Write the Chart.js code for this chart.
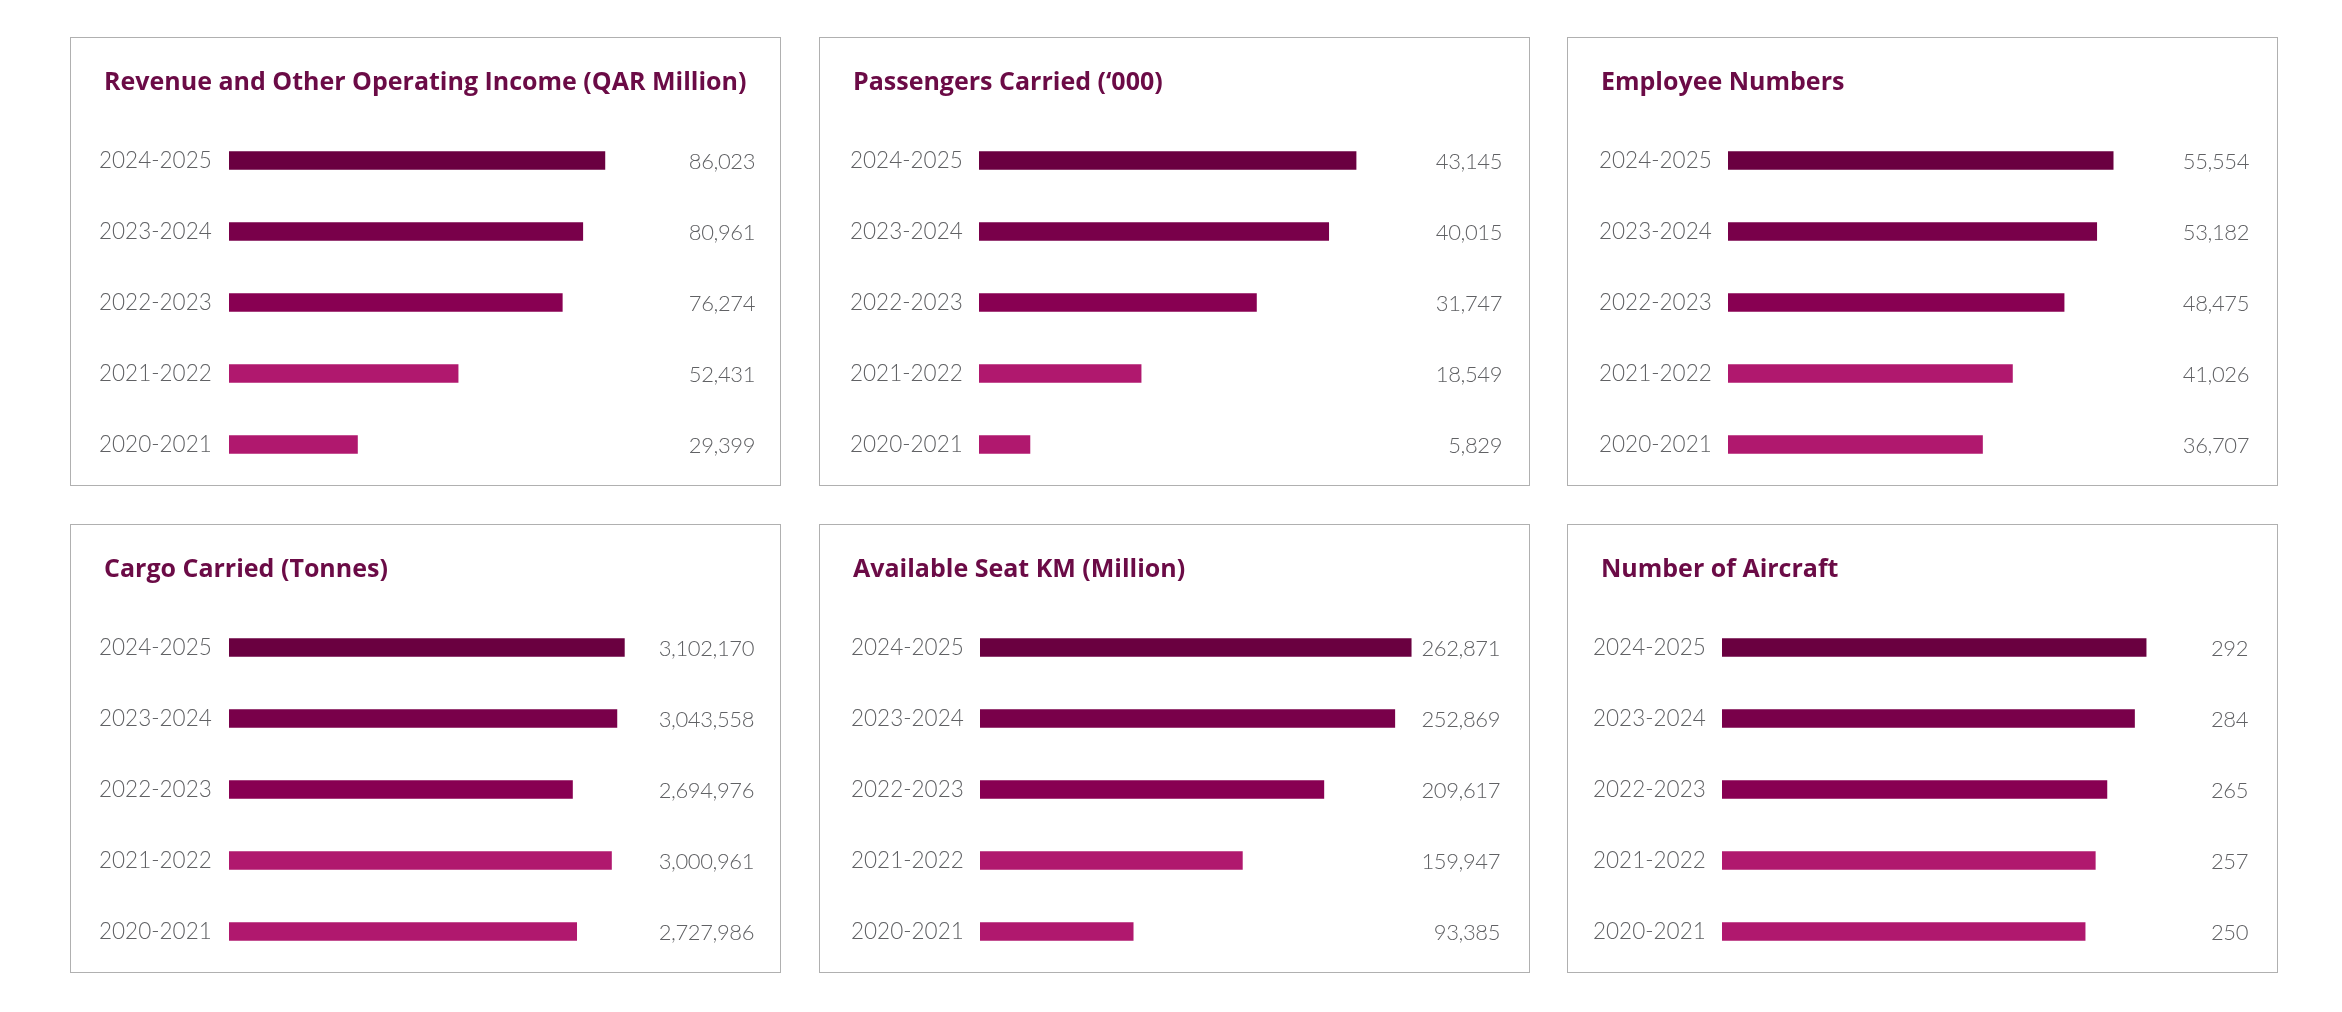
<!DOCTYPE html>
<html>
<head>
<meta charset="utf-8">
<script src="https://cdn.jsdelivr.net/npm/chart.js@4.4.1/dist/chart.umd.min.js"></script>
<style>
  html, body { margin: 0; padding: 0; background: #fff; }
  body { width: 2342px; height: 1012px; position: relative; overflow: hidden; }
  .panel { position: absolute; width: 711px; height: 449px; border: 1.5px solid #b0b0b0; box-sizing: border-box; }
  .panel canvas { position: absolute; left: 0; top: 0; }
</style>
</head>
<body>
<div class="panel" style="left:70px;top:37px"><canvas id="c0"></canvas></div>
<div class="panel" style="left:819px;top:37px"><canvas id="c1"></canvas></div>
<div class="panel" style="left:1567px;top:37px"><canvas id="c2"></canvas></div>
<div class="panel" style="left:70px;top:524px"><canvas id="c3"></canvas></div>
<div class="panel" style="left:819px;top:524px"><canvas id="c4"></canvas></div>
<div class="panel" style="left:1567px;top:524px"><canvas id="c5"></canvas></div>

<script>
// data
const years = ['2024-2025', '2023-2024', '2022-2023', '2021-2022', '2020-2021'];

const revenue    = [86023, 80961, 76274, 52431, 29399];
const passengers = [43145, 40015, 31747, 18549, 5829];
const employees  = [55554, 53182, 48475, 41026, 36707];
const cargo      = [3102170, 3043558, 2694976, 3000961, 2727986];
const seatKm     = [262871, 252869, 209617, 159947, 93385];
const aircraft   = [292, 284, 265, 257, 250];

const titles = [
    'Revenue and Other Operating Income (QAR Million)',
    'Passengers Carried (\u2018000)',
    'Employee Numbers',
    'Cargo Carried (Tonnes)',
    'Available Seat KM (Million)',
    'Number of Aircraft'
];
const series = [revenue, passengers, employees, cargo, seatKm, aircraft];

// x axis upper limit of each panel
const axisMax = [119000, 59500, 75000, 4080000, 317000, 358];

const barColors = ['#6a0040', '#79004a', '#880052', '#b0186e', '#b0186e'];

// label left, bar start, value right edge (px inside each panel)
const offsets = [
    { label: 28, bar: 158, value: 684 },
    { label: 30, bar: 159, value: 682 },
    { label: 31, bar: 160, value: 681 },
    { label: 28, bar: 158, value: 683 },
    { label: 31, bar: 160, value: 680 },
    { label: 25, bar: 154, value: 680 }
];

const W = 708, H = 446, PLOT = 520;
const TEXT_GREY = '#606164';
const TITLE_COLOR = '#6b0b46';

// title drawn at a fixed spot inside the panel
const panelTitle = {
    id: 'panelTitle',
    beforeDraw(chart, args, opts) {
        const ctx = chart.ctx;
        ctx.save();
        ctx.font = 'bold 25px "Open Sans"';
        ctx.fillStyle = TITLE_COLOR;
        ctx.textAlign = 'left';
        ctx.textBaseline = 'alphabetic';
        ctx.fillText(opts.text, 33, 52);
        ctx.restore();
    }
};

const valueLabels = {
    id: 'valueLabels',
    afterDatasetsDraw(chart, args, opts) {
        const ctx = chart.ctx;
        const meta = chart.getDatasetMeta(0);
        const data = chart.data.datasets[0].data;
        ctx.save();
        ctx.font = '300 22px Lato';
        ctx.letterSpacing = '-0.4px';
        ctx.fillStyle = TEXT_GREY;
        ctx.textAlign = 'right';
        ctx.textBaseline = 'middle';
        meta.data.forEach((bar, i) => {
            ctx.fillText(data[i].toLocaleString('en-US'), opts.x, bar.y + 1);
        });
        ctx.restore();
    }
};

series.forEach((values, i) => {
    const canvas = document.getElementById('c' + i);
    canvas.width = W;
    canvas.height = H;
    canvas.style.width = W + 'px';
    canvas.style.height = H + 'px';
    const off = offsets[i];

    new Chart(canvas, {
        type: 'bar',
        data: {
            labels: years,
            datasets: [{
                data: values,
                backgroundColor: barColors,
                barThickness: 18
            }]
        },
        options: {
            indexAxis: 'y',
            responsive: false,
            animation: false,
            devicePixelRatio: 1,
            layout: {
                autoPadding: false,
                padding: { left: off.label, right: W - off.bar - PLOT, top: 87, bottom: 4 }
            },
            scales: {
                x: { display: false, min: 0, max: axisMax[i] },
                y: {
                    grid: { display: false },
                    border: { display: false },
                    afterFit(scale) {
                        scale.width = off.bar - off.label;
                        scale.paddingTop = 0;
                        scale.paddingBottom = 0;
                    },
                    ticks: {
                        crossAlign: 'far',
                        padding: 0,
                        color: TEXT_GREY,
                        font: { family: 'Lato', size: 22.5, weight: '300' }
                    }
                }
            },
            plugins: {
                legend: { display: false },
                tooltip: { enabled: false },
                title: { display: false },
                panelTitle: { text: titles[i] },
                valueLabels: { x: off.value }
            }
        },
        plugins: [panelTitle, valueLabels]
    });
});
</script>
</body>
</html>
